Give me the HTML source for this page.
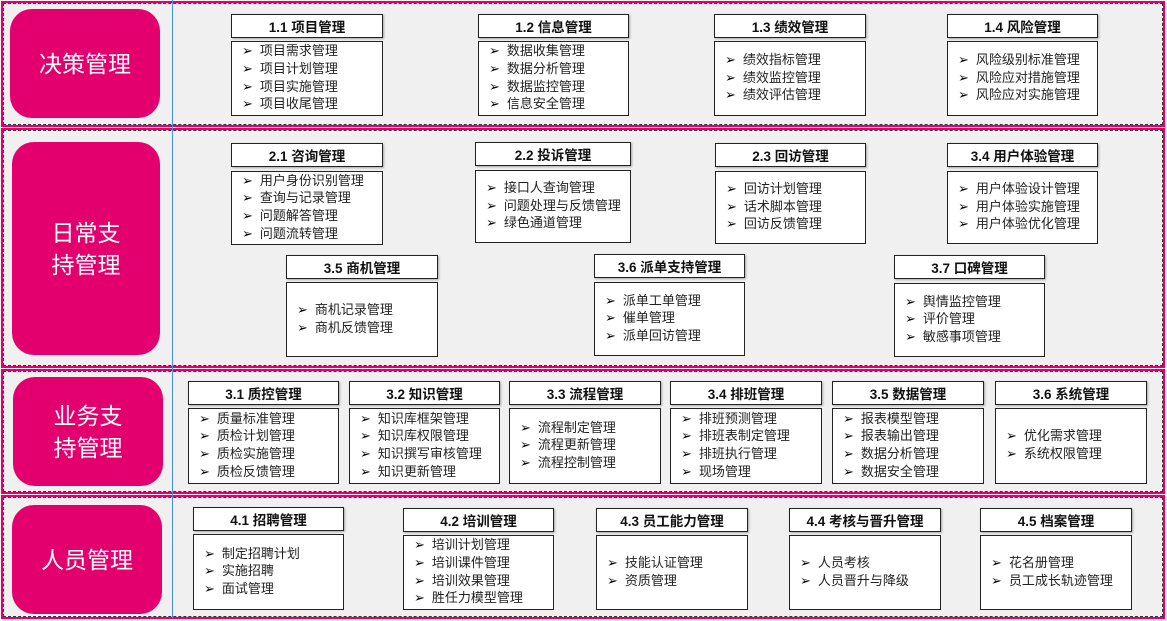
<!DOCTYPE html>
<html><head><meta charset="utf-8"><style>
body{margin:0;width:1167px;height:621px;background:#f0f0f0;position:relative;overflow:hidden;font-family:"Liberation Sans","Noto Sans CJK SC",sans-serif;}
.row{position:absolute;left:1px;width:1164px;border:2px solid #e3006e;box-sizing:border-box;}
.row:after{content:"";position:absolute;left:0;top:0;right:0;bottom:0;border:1px dashed #333;}
.vl{position:absolute;left:172px;top:0;width:1px;height:618px;background:#4a90d9;}
.pk{position:absolute;background:#e3006e;border-radius:22px;color:#fff;font-size:23px;display:flex;align-items:center;justify-content:center;text-align:center;line-height:32px;}
.t{position:absolute;height:24px;border:1px solid #222;background:#fff;box-sizing:border-box;font-weight:bold;font-size:13.5px;display:flex;align-items:center;justify-content:center;box-shadow:1px 1px 2px rgba(0,0,0,.3);color:#111;}
.b{position:absolute;border:1px solid #222;background:#fff;box-sizing:border-box;font-size:13px;display:flex;flex-direction:column;justify-content:center;padding-left:10px;line-height:16.6px;color:#222;white-space:nowrap;}
.b div:before{content:"➢";margin-right:7px;font-size:13px;color:#000;font-family:"DejaVu Sans",sans-serif;}
</style></head><body>
<div class="row" style="top:1px;height:126px"></div>
<div class="row" style="top:128px;height:240px"></div>
<div class="row" style="top:369px;height:125px"></div>
<div class="row" style="top:495px;height:124px"></div>
<div class="vl"></div>

<div class="pk" style="left:10px;top:9px;width:150px;height:109px">决策管理</div>
<div class="pk" style="left:12px;top:142px;width:148px;height:213px">日常支<br>持管理</div>
<div class="pk" style="left:13px;top:377px;width:150px;height:109px">业务支<br>持管理</div>
<div class="pk" style="left:12px;top:505px;width:150px;height:109px">人员管理</div>

<!-- row1 -->
<div class="t" style="left:231px;top:14px;width:152px">1.1 项目管理</div>
<div class="b" style="left:231px;top:41px;width:152px;height:75px"><div>项目需求管理</div><div>项目计划管理</div><div>项目实施管理</div><div>项目收尾管理</div></div>
<div class="t" style="left:478px;top:14px;width:151px">1.2 信息管理</div>
<div class="b" style="left:478px;top:41px;width:151px;height:75px"><div>数据收集管理</div><div>数据分析管理</div><div>数据监控管理</div><div>信息安全管理</div></div>
<div class="t" style="left:714px;top:14px;width:152px">1.3 绩效管理</div>
<div class="b" style="left:714px;top:41px;width:152px;height:75px"><div>绩效指标管理</div><div>绩效监控管理</div><div>绩效评估管理</div></div>
<div class="t" style="left:947px;top:14px;width:151px">1.4 风险管理</div>
<div class="b" style="left:947px;top:41px;width:151px;height:75px"><div>风险级别标准管理</div><div>风险应对措施管理</div><div>风险应对实施管理</div></div>

<!-- row2 -->
<div class="t" style="left:231px;top:143px;width:152px">2.1 咨询管理</div>
<div class="b" style="left:231px;top:171px;width:152px;height:74px"><div>用户身份识别管理</div><div>查询与记录管理</div><div>问题解答管理</div><div>问题流转管理</div></div>
<div class="t" style="left:475px;top:142px;width:156px">2.2 投诉管理</div>
<div class="b" style="left:475px;top:170px;width:156px;height:73px"><div>接口人查询管理</div><div>问题处理与反馈管理</div><div>绿色通道管理</div></div>
<div class="t" style="left:715px;top:143px;width:151px">2.3 回访管理</div>
<div class="b" style="left:715px;top:171px;width:151px;height:73px"><div>回访计划管理</div><div>话术脚本管理</div><div>回访反馈管理</div></div>
<div class="t" style="left:947px;top:143px;width:151px">3.4 用户体验管理</div>
<div class="b" style="left:947px;top:171px;width:151px;height:73px"><div>用户体验设计管理</div><div>用户体验实施管理</div><div>用户体验优化管理</div></div>
<div class="t" style="left:286px;top:255px;width:152px">3.5 商机管理</div>
<div class="b" style="left:286px;top:282px;width:152px;height:75px"><div>商机记录管理</div><div>商机反馈管理</div></div>
<div class="t" style="left:594px;top:254px;width:151px">3.6 派单支持管理</div>
<div class="b" style="left:594px;top:282px;width:151px;height:74px"><div>派单工单管理</div><div>催单管理</div><div>派单回访管理</div></div>
<div class="t" style="left:894px;top:255px;width:151px">3.7 口碑管理</div>
<div class="b" style="left:894px;top:283px;width:151px;height:74px"><div>舆情监控管理</div><div>评价管理</div><div>敏感事项管理</div></div>

<!-- row3 -->
<div class="t" style="left:188px;top:381px;width:151px">3.1 质控管理</div>
<div class="b" style="left:188px;top:408px;width:151px;height:76px"><div>质量标准管理</div><div>质检计划管理</div><div>质检实施管理</div><div>质检反馈管理</div></div>
<div class="t" style="left:349px;top:381px;width:151px">3.2 知识管理</div>
<div class="b" style="left:349px;top:408px;width:151px;height:76px"><div>知识库框架管理</div><div>知识库权限管理</div><div>知识撰写审核管理</div><div>知识更新管理</div></div>
<div class="t" style="left:509px;top:381px;width:152px">3.3 流程管理</div>
<div class="b" style="left:509px;top:408px;width:152px;height:76px"><div>流程制定管理</div><div>流程更新管理</div><div>流程控制管理</div></div>
<div class="t" style="left:670px;top:381px;width:152px">3.4 排班管理</div>
<div class="b" style="left:670px;top:408px;width:152px;height:76px"><div>排班预测管理</div><div>排班表制定管理</div><div>排班执行管理</div><div>现场管理</div></div>
<div class="t" style="left:832px;top:381px;width:152px">3.5 数据管理</div>
<div class="b" style="left:832px;top:408px;width:152px;height:76px"><div>报表模型管理</div><div>报表输出管理</div><div>数据分析管理</div><div>数据安全管理</div></div>
<div class="t" style="left:995px;top:381px;width:152px">3.6 系统管理</div>
<div class="b" style="left:995px;top:408px;width:152px;height:76px"><div>优化需求管理</div><div>系统权限管理</div></div>

<!-- row4 -->
<div class="t" style="left:193px;top:507px;width:151px">4.1 招聘管理</div>
<div class="b" style="left:193px;top:534px;width:151px;height:76px"><div>制定招聘计划</div><div>实施招聘</div><div>面试管理</div></div>
<div class="t" style="left:403px;top:508px;width:151px">4.2 培训管理</div>
<div class="b" style="left:403px;top:535px;width:151px;height:75px"><div>培训计划管理</div><div>培训课件管理</div><div>培训效果管理</div><div>胜任力模型管理</div></div>
<div class="t" style="left:596px;top:508px;width:152px">4.3 员工能力管理</div>
<div class="b" style="left:596px;top:535px;width:152px;height:75px"><div>技能认证管理</div><div>资质管理</div></div>
<div class="t" style="left:789px;top:508px;width:152px">4.4 考核与晋升管理</div>
<div class="b" style="left:789px;top:535px;width:152px;height:75px"><div>人员考核</div><div>人员晋升与降级</div></div>
<div class="t" style="left:980px;top:508px;width:152px">4.5 档案管理</div>
<div class="b" style="left:980px;top:535px;width:152px;height:75px"><div>花名册管理</div><div>员工成长轨迹管理</div></div>
</body></html>
